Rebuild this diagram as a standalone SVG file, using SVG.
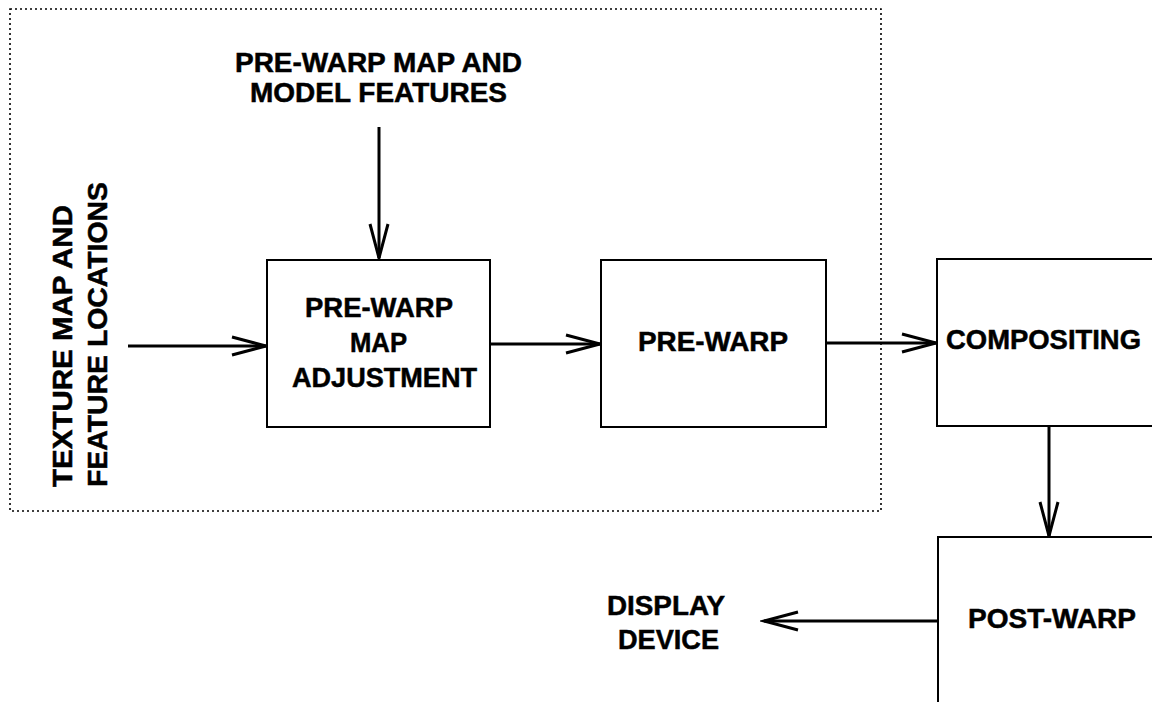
<svg xmlns="http://www.w3.org/2000/svg" width="1152" height="702" viewBox="0 0 1152 702">
<style>
.box{fill:#fff;stroke:#000;stroke-width:2}
.t{font-family:"Liberation Sans",Arial,sans-serif;font-weight:bold;font-size:27px;fill:#000;stroke:#000;stroke-width:0.5}
.c{stroke:#000;stroke-width:3;fill:none}
.dot{fill:none;stroke:#000;stroke-width:1.6;stroke-dasharray:2 3}
</style>
<defs>
<marker id="ah" markerUnits="userSpaceOnUse" markerWidth="40" markerHeight="24" viewBox="-36 -12 40 24" refX="0" refY="0" orient="auto">
<path d="M-34,-9 L0,0 L-34,9" fill="none" stroke="#000" stroke-width="3"/>
</marker>
</defs>
<rect width="1152" height="702" fill="#fff"/>
<rect id="group-boundary" class="dot" x="10" y="9" width="871" height="502"/>
<g id="connectors">
<line class="c" x1="128" y1="346" x2="266" y2="346" marker-end="url(#ah)"/>
<line class="c" x1="490" y1="344" x2="600" y2="344" marker-end="url(#ah)"/>
<line class="c" x1="826" y1="343" x2="936" y2="343" marker-end="url(#ah)"/>
<line class="c" x1="379" y1="127" x2="379" y2="258" marker-end="url(#ah)"/>
<line class="c" x1="1049" y1="426" x2="1049" y2="536" marker-end="url(#ah)"/>
<line class="c" x1="938" y1="621" x2="764" y2="621" marker-end="url(#ah)"/>
</g>
<g id="input-top">
<text class="t" x="235" y="72" textLength="287" lengthAdjust="spacingAndGlyphs">PRE-WARP MAP AND</text>
<text class="t" x="250" y="102" textLength="257" lengthAdjust="spacingAndGlyphs">MODEL FEATURES</text>
</g>
<g id="input-left">
<text class="t" transform="translate(72,487) rotate(-90)" x="0" y="0" textLength="282" lengthAdjust="spacingAndGlyphs">TEXTURE MAP AND</text>
<text class="t" transform="translate(107,487) rotate(-90)" x="0" y="0" textLength="305" lengthAdjust="spacingAndGlyphs">FEATURE LOCATIONS</text>
</g>
<g id="pre-warp-map-adjustment">
<rect class="box" x="267" y="260" width="223" height="167"/>
<text class="t" x="305" y="317" textLength="148" lengthAdjust="spacingAndGlyphs">PRE-WARP</text>
<text class="t" x="350" y="352" textLength="57" lengthAdjust="spacingAndGlyphs">MAP</text>
<text class="t" x="292" y="387" textLength="185" lengthAdjust="spacingAndGlyphs">ADJUSTMENT</text>
</g>
<g id="pre-warp">
<rect class="box" x="601" y="260" width="225" height="167"/>
<text class="t" x="638" y="351" textLength="150" lengthAdjust="spacingAndGlyphs">PRE-WARP</text>
</g>
<g id="compositing">
<rect class="box" x="937" y="259" width="230" height="167"/>
<text class="t" x="946" y="349" textLength="195" lengthAdjust="spacingAndGlyphs">COMPOSITING</text>
</g>
<g id="post-warp">
<rect class="box" x="938" y="537" width="230" height="180"/>
<text class="t" x="968" y="628" textLength="168" lengthAdjust="spacingAndGlyphs">POST-WARP</text>
</g>
<g id="display-device">
<text class="t" x="607" y="615" textLength="118" lengthAdjust="spacingAndGlyphs">DISPLAY</text>
<text class="t" x="618" y="649" textLength="101" lengthAdjust="spacingAndGlyphs">DEVICE</text>
</g>
</svg>
